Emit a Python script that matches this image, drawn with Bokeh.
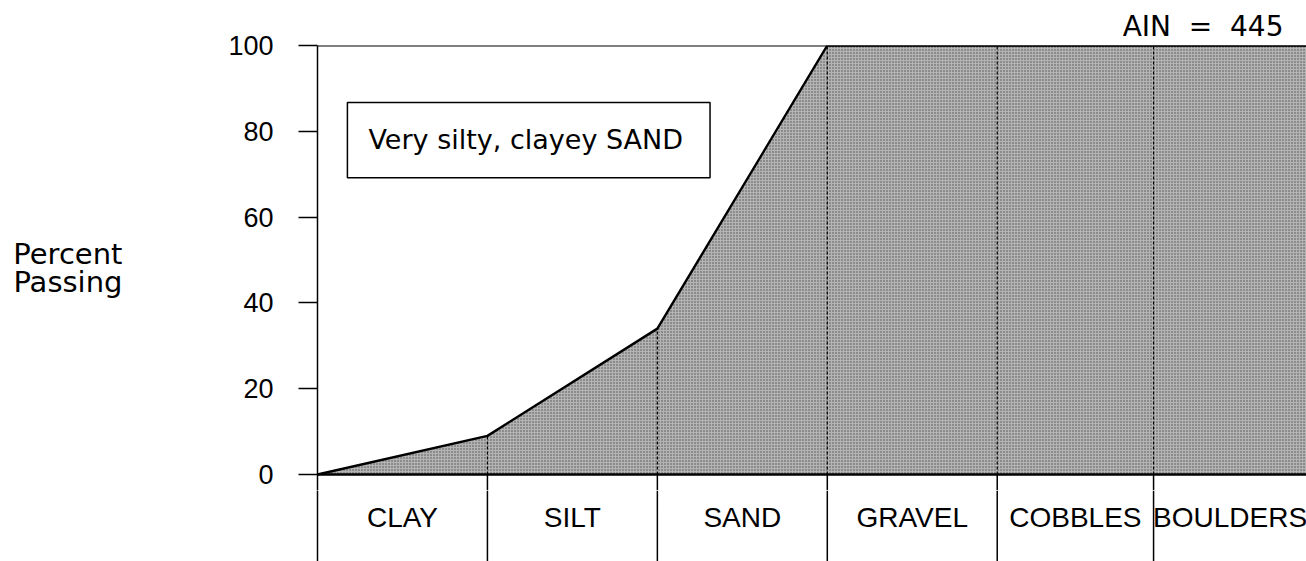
from bokeh.plotting import figure
from bokeh.layouts import column
from bokeh.models import Range1d, FixedTicker, Span
from bokeh.core.properties import value
from bokeh.embed import file_html
from bokeh.resources import INLINE

# ---- data ----
categories = ["CLAY", "SILT", "SAND", "GRAVEL", "COBBLES", "BOULDERS"]
edges = [0, 1, 2, 3, 4, 4.92, 5.82]          # class boundaries (x positions)
passing = [0, 9, 34, 100, 100, 100, 100]      # percent passing at each boundary
y_ticks = [0, 20, 40, 60, 80, 100]
soil_label = "Very silty, clayey SAND"
ain_label = "AIN \u00a0=\u00a0 445"
y_title = "Percent\nPassing"

FONT = "Liberation Sans"
WIDE = "DejaVu Sans"

Y_SPLIT = -3.73     # where the upper figure ends (below 0, so the "0" label fits)
Y_BOTTOM = -20.28   # bottom of the class strip

xr = Range1d(0, edges[-1])

p = figure(width=1306, height=490, output_backend="svg", toolbar_location=None,
           x_range=xr, y_range=Range1d(Y_SPLIT, 100),
           min_border_left=317, min_border_top=45, min_border_right=0, min_border_bottom=0)
p.outline_line_color = None
p.xaxis.visible = False
p.grid.visible = False

p.title.text = ain_label
p.title.align = "right"
p.title.offset = 23
p.title.standoff = 6
p.title.text_font = WIDE
p.title.text_font_size = "28px"
p.title.text_font_style = "normal"
p.title.text_color = "black"

ax = p.yaxis[0]
ax.ticker = FixedTicker(ticks=y_ticks)
ax.major_tick_out = 19
ax.major_tick_in = 0
ax.minor_tick_line_color = None
ax.major_tick_line_width = 1.5
ax.axis_line_width = 1.5
ax.axis_line_color = "black"
ax.major_tick_line_color = "black"
ax.major_label_standoff = 25
ax.major_label_text_font = FONT
ax.major_label_text_font_size = "27px"
ax.major_label_text_color = "black"
ax.axis_label = y_title
ax.axis_label_orientation = "horizontal"
ax.axis_label_standoff = 103
ax.axis_label_text_font = WIDE
ax.axis_label_text_font_size = "29px"
ax.axis_label_text_font_style = "normal"
ax.axis_label_text_color = "black"
ax.axis_label_text_line_height = 0.85

# shaded area under the grading curve
p.varea(x=edges, y1=[0] * len(edges), y2=passing, fill_color="#b4b4b4",
        hatch_pattern="dot", hatch_color="#222222", hatch_scale=3, hatch_weight=1.2,
        hatch_alpha=0.7)

# dashed class boundaries inside the shaded area
inner = edges[1:-1]
p.segment(x0=inner, y0=[0] * len(inner), x1=inner, y1=passing[1:-1],
          line_color="black", line_width=1.2, line_dash="3 2")

# solid class separators (upper part of the class strip)
p.segment(x0=inner, y0=[0] * len(inner), x1=inner, y1=[Y_SPLIT] * len(inner),
          line_color="black", line_width=1.5)

# top and base lines
p.add_layout(Span(location=100, dimension="width", line_color="black", line_width=1.8))
p.add_layout(Span(location=0, dimension="width", line_color="black", line_width=2.4))

# grading curve
p.line(edges, passing, line_color="black", line_width=2.4)

# description box
p.quad(left=0.176, right=2.31, bottom=69.2, top=86.7, fill_color="white",
       line_color="black", line_width=1.5)
p.text(x=[0.3], y=[78.0], text=[soil_label], text_font=value(WIDE),
       text_font_size="27px", text_color="black", text_align="left",
       text_baseline="middle")

# ---- class strip below ----
b = figure(width=1306, height=71, output_backend="svg", toolbar_location=None,
           x_range=xr, y_range=Range1d(Y_BOTTOM, Y_SPLIT),
           min_border_left=317, min_border_top=0, min_border_right=0, min_border_bottom=0)
b.outline_line_color = None
b.xaxis.visible = False
b.grid.visible = False
bax = b.yaxis[0]
bax.ticker = FixedTicker(ticks=[])
bax.minor_tick_line_color = None
bax.major_label_text_font_size = "0px"
bax.axis_line_width = 1.5
bax.axis_line_color = "black"

b.segment(x0=inner, y0=[Y_BOTTOM] * len(inner), x1=inner, y1=[Y_SPLIT] * len(inner),
          line_color="black", line_width=1.5)

centers = [(a + c) / 2 for a, c in zip(edges[:-1], edges[1:])]
b.text(x=centers, y=[-10.1] * len(centers), text=categories,
       text_font=value(FONT), text_font_size="28px", text_color="black",
       text_align="center", text_baseline="middle")

layout = column(p, b, spacing=0)
open("out.html", "w").write(file_html(layout, INLINE))
